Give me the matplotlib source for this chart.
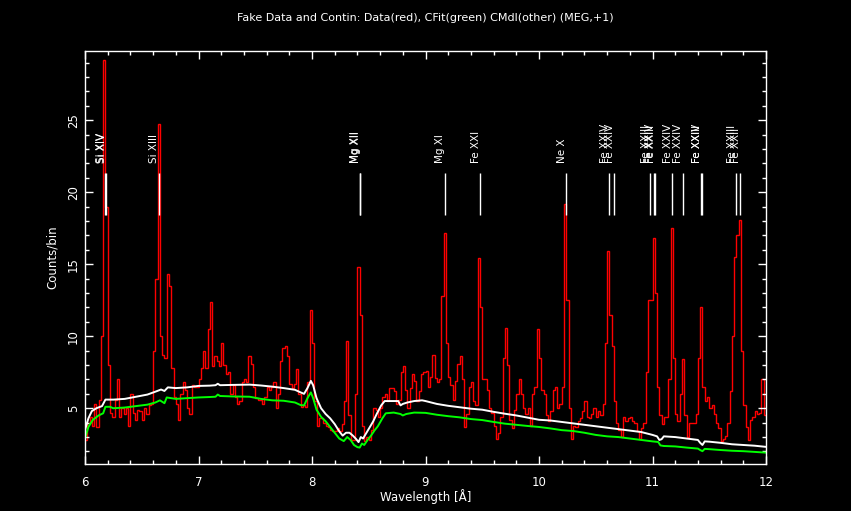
import numpy as np
import matplotlib
matplotlib.use("Agg")
import matplotlib.pyplot as plt
from matplotlib.ticker import MultipleLocator

# measured counts, 0.02 A bins from 6 to 12 A
wave_lo = 6.0
bin_width = 0.02
counts = [
    2.8, 4.0, 4.4, 3.8, 5.3, 3.7, 5.6, 10.0, 29.2, 19.0,
    8.0, 4.7, 4.4, 5.6, 7.0, 4.4, 5.0, 4.6, 5.0, 3.8,
    6.0, 4.7, 4.2, 4.9, 4.8, 4.2, 5.0, 4.6, 5.2, 5.3,
    9.0, 14.0, 24.7, 10.0, 8.7, 8.5, 14.3, 13.5, 7.8, 5.8,
    5.3, 4.2, 6.0, 6.8, 6.3, 5.0, 4.6, 6.6, 6.5, 6.5,
    7.0, 7.8, 9.0, 7.8, 10.5, 12.4, 7.9, 8.6, 8.3, 7.9,
    9.5, 8.0, 7.4, 7.5, 6.0, 6.6, 5.8, 5.3, 5.5, 6.8,
    7.0, 6.8, 8.6, 8.1, 6.5, 5.7, 5.6, 5.6, 5.3, 5.8,
    6.5, 6.3, 6.5, 6.8, 5.0, 6.0, 8.3, 9.2, 9.3, 8.6,
    6.7, 6.4, 6.7, 7.7, 6.0, 5.1, 5.2, 5.1, 6.8, 11.8,
    9.5, 5.5, 3.8, 4.3, 4.3, 4.0, 3.8, 3.7, 3.5, 3.4,
    3.4, 3.6, 3.4, 3.9, 5.5, 9.7, 4.5, 2.8, 2.8, 6.0,
    14.8, 11.5, 3.8, 2.7, 3.0, 2.8, 3.5, 5.0, 4.9, 4.4,
    5.0, 5.8, 6.0, 5.5, 6.4, 6.4, 6.2, 5.3, 5.6, 7.5,
    7.9, 6.3, 5.0, 6.4, 7.4, 6.9, 5.5, 6.2, 7.4, 7.5,
    7.6, 6.5, 7.2, 8.7, 7.1, 6.8, 7.0, 12.8, 17.2, 9.5,
    7.2, 6.6, 5.6, 6.9, 8.1, 8.6, 7.0, 3.7, 4.6, 6.5,
    6.8, 5.5, 5.2, 15.4, 12.0, 7.0, 7.0, 6.3, 5.0, 4.7,
    3.8, 2.9, 3.3, 4.4, 8.5, 10.6, 8.0, 4.2, 3.6, 4.9,
    6.0, 7.0, 6.0, 5.0, 4.6, 5.0, 3.8, 6.0, 6.5, 10.5,
    8.5, 6.3, 6.0, 4.5, 4.1, 4.8, 6.3, 6.5, 5.0, 5.3,
    6.5, 19.2, 12.5, 5.0, 2.9, 3.8, 3.7, 4.1, 4.3, 4.8,
    5.5, 4.4, 4.3, 4.6, 5.0, 4.4, 4.8, 4.5, 5.3, 9.5,
    15.9, 11.5, 9.3, 5.5, 4.0, 3.5, 3.0, 4.4, 4.1, 4.3,
    4.4, 4.1, 4.0, 3.4, 2.9, 3.6, 4.0, 7.5, 12.5, 12.5,
    16.8, 13.0, 6.5, 4.5, 3.9, 4.4, 4.4, 7.0, 17.5, 8.5,
    4.6, 4.1, 6.0, 8.4, 4.5, 3.0, 4.0, 4.0, 4.0, 4.6,
    8.5, 12.0, 6.5, 5.5, 5.8, 5.0, 5.2, 4.6, 4.0, 3.6,
    2.7, 2.9, 3.1, 4.0, 6.2, 10.0, 15.5, 17.0, 18.1, 9.0,
    5.2, 3.7, 2.8, 4.2, 4.4, 4.8, 4.6, 4.7, 7.0, 4.5,
]

# model continuum (white)
mdl_wave = [6.00, 6.03, 6.06, 6.10, 6.15, 6.18, 6.25, 6.35, 6.45, 6.55,
            6.62, 6.67, 6.70, 6.73, 6.80, 6.90, 7.00, 7.10, 7.15, 7.17,
            7.19, 7.30, 7.45, 7.55, 7.65, 7.75, 7.85, 7.90, 7.93, 7.96,
            7.99, 8.01, 8.04, 8.08, 8.12, 8.16, 8.20, 8.24, 8.27, 8.30,
            8.33, 8.36, 8.39, 8.41, 8.43, 8.45, 8.48, 8.51, 8.54, 8.57,
            8.61, 8.64, 8.70, 8.76, 8.78, 8.80, 8.84, 8.90, 8.97, 9.00,
            9.10, 9.20, 9.30, 9.40, 9.50, 9.60, 9.70, 9.80, 9.90, 10.00,
            10.10, 10.20, 10.30, 10.40, 10.50, 10.60, 10.70, 10.80, 10.90, 11.00,
            11.04, 11.06, 11.08, 11.10, 11.20, 11.30, 11.40, 11.42, 11.44, 11.46,
            11.50, 11.60, 11.70, 11.80, 11.90, 12.00]
mdl_val = [3.5, 4.3, 4.8, 5.0, 5.15, 5.6, 5.6, 5.65, 5.8, 5.95,
           6.15, 6.3, 6.2, 6.45, 6.4, 6.45, 6.55, 6.57, 6.6, 6.7,
           6.6, 6.62, 6.64, 6.58, 6.5, 6.4, 6.28, 6.1, 6.0, 6.4,
           6.9, 6.6, 5.7, 5.0, 4.6, 4.3, 3.9, 3.4, 3.1, 3.3,
           3.3, 3.1, 2.85, 2.65, 3.0, 2.9, 3.3, 3.7, 4.1, 4.6,
           5.2, 5.5, 5.5, 5.5, 5.2, 5.3, 5.4, 5.5, 5.55, 5.5,
           5.3, 5.17, 5.07, 4.97, 4.9, 4.75, 4.62, 4.5, 4.35, 4.2,
           4.15, 4.05, 3.95, 3.85, 3.75, 3.65, 3.55, 3.45, 3.35, 3.15,
           3.05, 2.8, 2.85, 3.05, 3.0, 2.9, 2.8, 2.6, 2.45, 2.7,
           2.68, 2.6, 2.5, 2.45, 2.4, 2.32]

# fitted continuum (green)
fit_wave = [6.00, 6.03, 6.07, 6.12, 6.16, 6.18, 6.22, 6.25, 6.35, 6.45,
            6.55, 6.62, 6.66, 6.70, 6.72, 6.80, 6.90, 7.00, 7.10, 7.15,
            7.17, 7.19, 7.30, 7.45, 7.55, 7.65, 7.75, 7.85, 7.90, 7.93,
            7.96, 7.99, 8.01, 8.04, 8.08, 8.12, 8.16, 8.20, 8.24, 8.28,
            8.31, 8.34, 8.37, 8.40, 8.42, 8.44, 8.46, 8.49, 8.52, 8.55,
            8.58, 8.62, 8.65, 8.72, 8.78, 8.80, 8.83, 8.90, 9.00, 9.10,
            9.20, 9.30, 9.40, 9.50, 9.60, 9.70, 9.80, 9.90, 10.00, 10.10,
            10.20, 10.30, 10.40, 10.50, 10.60, 10.70, 10.80, 10.90, 11.00, 11.05,
            11.07, 11.10, 11.20, 11.30, 11.40, 11.42, 11.44, 11.46, 11.50, 11.60,
            11.70, 11.80, 11.90, 12.00]
fit_val = [2.9, 3.7, 4.2, 4.5, 4.65, 5.1, 5.1, 5.0, 5.05, 5.15,
           5.25, 5.4, 5.55, 5.35, 5.75, 5.65, 5.7, 5.75, 5.78, 5.8,
           5.95, 5.85, 5.82, 5.8, 5.65, 5.55, 5.52, 5.4, 5.22, 5.2,
           5.7, 6.1, 5.7, 4.9, 4.4, 4.1, 3.7, 3.3, 2.9, 2.72,
           3.0, 2.8, 2.45, 2.3, 2.27, 2.55, 2.45, 2.8, 3.1, 3.45,
           3.75, 4.3, 4.65, 4.7, 4.6, 4.5, 4.6, 4.7, 4.68, 4.55,
           4.45, 4.37, 4.25, 4.18, 4.05, 3.93, 3.85, 3.77, 3.7, 3.6,
           3.48, 3.42, 3.3, 3.15, 3.05, 3.0, 2.9, 2.8, 2.7, 2.66,
           2.42, 2.38, 2.35, 2.27, 2.2, 2.1, 2.02, 2.18, 2.16, 2.1,
           2.05, 2.02, 1.97, 1.92]

# line identifications
line_wave = [6.180, 6.186, 6.648, 8.419, 8.425, 9.169, 9.480, 10.239,
             10.619, 10.663, 10.981, 11.014, 11.024, 11.176, 11.266,
             11.426, 11.434, 11.736, 11.770]
line_name = ["Si XIV", "Si XIV", "Si XIII", "Mg XII", "Mg XII", "Mg XI",
             "Fe XXI", "Ne X", "Fe XXIV", "Fe XXIV", "Fe XXIII", "Fe XXIV",
             "Fe XXIII", "Fe XXIV", "Fe XXIV", "Fe XXIV", "Fe XXIII",
             "Fe XXIII", "Fe XXII"]

edges = wave_lo + bin_width * np.arange(len(counts) + 1)

fig = plt.figure(figsize=(8.51, 5.11), dpi=100, facecolor="black")
ax = fig.add_axes([85 / 851, 1 - 464 / 511, 681 / 851, 413 / 511])
ax.set_facecolor("black")

ax.stairs(counts, edges, baseline=None, color="red", lw=1.0)
ax.plot(mdl_wave, mdl_val, color="white", lw=1.4)
ax.plot(fit_wave, fit_val, color="#00ff00", lw=1.4)

ax.vlines(line_wave, 18.45, 21.3, color="white", lw=1)
for w, name in zip(line_wave, line_name):
    ax.text(w + 0.006, 22.0, name, color="white", fontsize=7.5,
            rotation=90, ha="right", va="bottom")

ax.set_xlim(6, 12)
ax.set_ylim(1.13, 29.8)
ax.xaxis.set_major_locator(MultipleLocator(1))
ax.xaxis.set_minor_locator(MultipleLocator(0.2))
ax.yaxis.set_major_locator(MultipleLocator(5))
ax.yaxis.set_minor_locator(MultipleLocator(1))
ax.tick_params(which="both", direction="in", colors="white",
               top=True, right=True, labelsize=8.5)
ax.tick_params(which="major", length=6, width=1)
ax.tick_params(which="minor", length=3, width=1)
ax.tick_params(axis="x", pad=9)
for lab in ax.get_yticklabels():
    lab.set_rotation(90)
    lab.set_va("center")
for sp in ax.spines.values():
    sp.set_color("white")
    sp.set_linewidth(1)

ax.set_xlabel("Wavelength [Å]", color="white", fontsize=8.5, labelpad=0)
ax.set_ylabel("Counts/bin", color="white", fontsize=8.5, labelpad=6)
fig.text(425.5 / 851, 1 - 18 / 511,
         "Fake Data and Contin: Data(red), CFit(green) CMdl(other) (MEG,+1)",
         color="white", fontsize=8, ha="center", va="center")

fig.savefig("out.png", dpi=100, facecolor="black")
